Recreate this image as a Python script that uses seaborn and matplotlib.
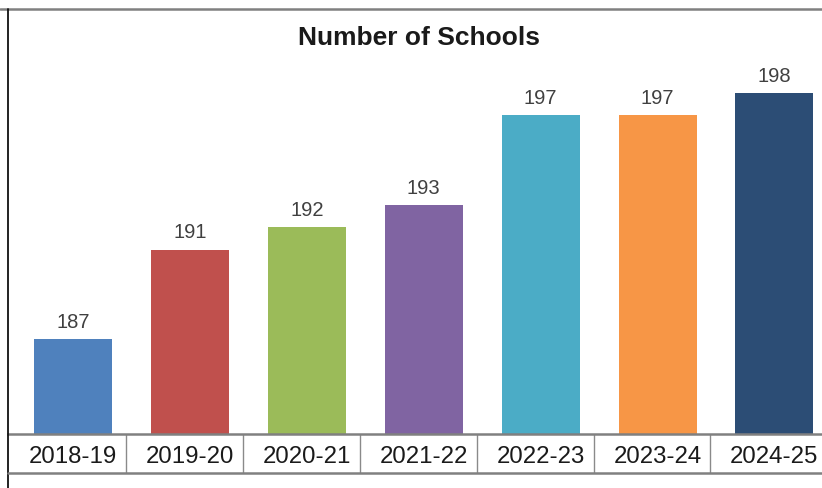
import matplotlib.pyplot as plt
import pandas as pd
import seaborn as sns
from matplotlib.lines import Line2D

years = ["2018-19", "2019-20", "2020-21", "2021-22", "2022-23", "2023-24", "2024-25"]
schools = [187, 191, 192, 193, 197, 197, 198]
colors = ["#4F81BD", "#C0504D", "#9BBB59", "#8064A2", "#4BACC6", "#F79646", "#2C4D75"]

sns.set_theme(style="white")
plt.rcParams["font.family"] = ["Liberation Sans", "DejaVu Sans"]

df = pd.DataFrame({"year": years, "schools": schools})

W, H = 822, 489
fig = plt.figure(figsize=(W / 100, H / 100), dpi=100)
ax = fig.add_axes([8 / W, (H - 435) / H, (W - 8) / W, 425 / H])

sns.barplot(data=df, x="year", y="schools", hue="year", palette=colors,
            width=0.667, legend=False, saturation=1, linewidth=0, ax=ax)

ax.set_xlim(-0.556, 6.407)
ax.set_ylim(182.75, 201.76)
ax.set_xlabel("")
ax.set_ylabel("")
ax.set_yticks([])

for c in ax.containers:
    ax.bar_label(c, padding=6, fontsize=14.5, color="#404040")

# category separators below the axis
ax.set_xticks([i + 0.453 for i in range(len(years) - 1)], minor=True)
ax.tick_params(axis="x", which="minor", bottom=True, length=28, width=1.0,
               color="#8a8a8a", direction="out")
ax.tick_params(axis="x", which="major", length=0, pad=8, labelsize=17.3,
               labelcolor="#1a1a1a")

for side in ["top", "right", "left"]:
    ax.spines[side].set_visible(False)
ax.spines["bottom"].set_color("#808080")
ax.spines["bottom"].set_linewidth(1.8)

fig.text(419 / W, 1 - 38 / H, "Number of Schools", ha="center", va="center",
         fontsize=19, fontweight="bold", color="#1a1a1a")

# frame lines
fig.add_artist(Line2D([0, 1], [1 - 10 / H, 1 - 10 / H], color="#808080", lw=1.8))
fig.add_artist(Line2D([8 / W, 8 / W], [0, 1 - 10 / H], color="#111111", lw=1.3))
fig.add_artist(Line2D([8 / W, 1], [1 - 474 / H, 1 - 474 / H], color="#808080", lw=1.8))

fig.savefig("out.png", dpi=100)
